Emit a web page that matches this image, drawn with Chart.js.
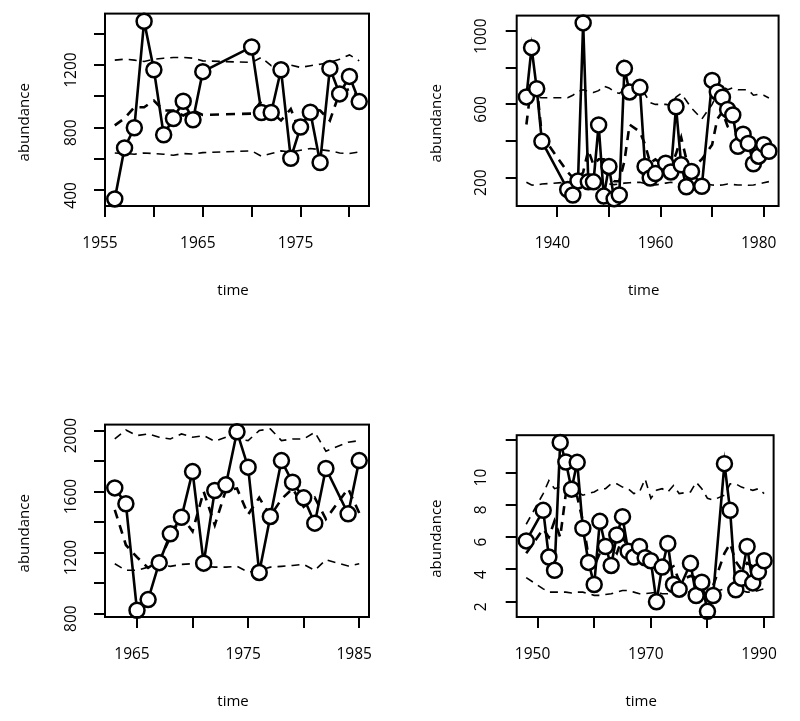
<!DOCTYPE html>
<html><head><meta charset="utf-8">
<script src="https://cdn.jsdelivr.net/npm/chart.js@4"></script>
<style>
body{margin:0;background:#fff;width:800px;height:721px;position:relative;overflow:hidden}
.p{position:absolute;width:400px;height:310px}
</style></head><body>
<div class="p" style="left:0;top:0"><canvas id="c1"></canvas></div>
<div class="p" style="left:400px;top:0"><canvas id="c2"></canvas></div>
<div class="p" style="left:0;top:411px"><canvas id="c3"></canvas></div>
<div class="p" style="left:400px;top:411px"><canvas id="c4"></canvas></div>
<script>
// ---------- Panel 1 ----------
const years1 = [1956,1957,1958,1959,1960,1961,1962,1963,1964,1965,1970,1971,1972,1973,1974,1975,1976,1977,1978,1979,1980,1981];
const obs1 = [345,671,800,1480,1170,755,859,969,851,1158,1316,897,897,1170,605,804,899,578,1179,1016,1128,967];
const median1 = [815,860,931,931,973,910,910,878,910,882,890,970,900,846,920,762,920,910,846,1026,1047,995];
const lower1 = [639,635,631,639,635,631,624,635,632,641,652,618,635,652,645,656,667,660,652,639,635,645];
const upper1 = [1232,1238,1232,1223,1238,1244,1249,1249,1244,1227,1217,1249,1196,1206,1200,1185,1196,1206,1217,1238,1265,1227];
const xTicks1 = [1955,1960,1965,1970,1975,1980];
const xLabels1 = [1955,1965,1975];
const yTicks1 = [400,600,800,1000,1200,1400];
const yLabels1 = [400,800,1200];

// ---------- Panel 2 ----------
const years2 = [1934,1935,1936,1937,1942,1943,1944,1945,1946,1947,1948,1949,1950,1951,1952,1953,1954,1956,1957,1958,1959,1961,1962,1963,1964,1965,1966,1968,1970,1971,1972,1973,1974,1975,1976,1977,1978,1979,1980,1981];
const obs2 = [641,910,686,398,135,105,182,1045,177,177,488,99,261,84,105,797,668,693,261,198,222,279,231,587,270,150,234,153,731,668,639,572,542,371,437,387,276,317,380,344];
const median2 = [490,720,700,430,230,200,190,230,350,270,300,300,210,180,180,290,490,450,380,280,300,260,260,330,420,300,250,300,380,520,560,480,460,450,390,400,370,360,340,360];
const lower2 = [175,160,158,165,175,180,178,175,172,170,168,168,165,162,165,170,172,175,168,165,160,170,175,168,160,162,165,170,160,158,160,165,162,160,160,158,160,165,172,178];
const upper2 = [645,655,640,636,636,650,670,680,670,665,675,700,690,670,660,680,665,680,655,610,600,600,595,640,660,620,580,520,600,660,700,680,690,680,680,680,650,655,650,635];
const xTicks2 = [1940,1950,1960,1970,1980];
const xLabels2 = [1940,1960,1980];
const yTicks2 = [200,400,600,800,1000];
const yLabels2 = [200,600,1000];

// ---------- Panel 3 ----------
const years3 = [1963,1964,1965,1966,1967,1968,1969,1970,1971,1972,1973,1974,1975,1976,1977,1978,1979,1980,1981,1982,1984,1985];
const obs3 = [1624,1520,822,892,1134,1323,1432,1731,1131,1607,1644,1992,1760,1070,1437,1803,1661,1559,1393,1751,1454,1803];
const median3 = [1480,1250,1170,1100,1150,1300,1440,1340,1600,1380,1610,1620,1450,1560,1440,1550,1620,1500,1560,1420,1620,1460];
const lower3 = [1127,1084,1084,1105,1123,1110,1123,1127,1110,1105,1105,1110,1073,1084,1105,1110,1116,1123,1084,1153,1112,1127];
const upper3 = [1945,2004,1967,1978,1956,1945,1978,1956,1967,1930,1956,1945,1934,2000,2011,1934,1945,1945,1989,1865,1923,1934];
const xTicks3 = [1965,1970,1975,1980,1985];
const xLabels3 = [1965,1975,1985];
const yTicks3 = [800,1000,1200,1400,1600,1800,2000];
const yLabels3 = [800,1200,1600,2000];

// ---------- Panel 4 ----------
const years4 = [1948,1951,1952,1953,1954,1955,1956,1957,1958,1959,1960,1961,1962,1963,1964,1965,1966,1967,1968,1969,1970,1971,1972,1973,1974,1975,1977,1978,1979,1980,1981,1983,1984,1985,1986,1987,1988,1989,1990];
const obs4 = [5.77,7.66,4.77,3.95,11.86,10.65,8.97,10.63,6.55,4.44,3.07,6.98,5.42,4.25,6.14,7.27,5.13,4.77,5.42,4.73,4.54,2.0,4.15,5.61,3.07,2.78,4.38,2.39,3.21,1.41,2.39,10.55,7.66,2.74,3.46,5.42,3.17,3.86,4.54];
const median4 = [5.0,6.5,6.0,7.0,6.0,8.7,8.8,8.5,7.0,4.8,4.2,5.0,5.5,5.4,5.0,6.0,5.4,5.0,5.0,4.8,4.6,4.0,3.8,4.0,4.2,3.3,3.6,3.5,3.0,2.9,3.0,5.0,5.6,4.5,4.0,4.4,4.2,4.0,4.2];
const lower4 = [3.5,2.8,2.6,2.6,2.6,2.6,2.55,2.6,2.6,2.5,2.4,2.4,2.45,2.5,2.6,2.7,2.7,2.6,2.5,2.5,2.55,2.6,2.5,2.5,2.55,2.6,2.6,2.55,2.5,2.4,2.6,2.8,2.8,2.7,2.7,2.6,2.6,2.7,2.8];
const upper4 = [6.8,8.7,9.5,9.0,9.1,8.9,8.9,8.8,8.6,8.7,8.8,9.0,9.0,9.3,9.3,9.1,9.0,8.7,8.8,9.6,8.4,8.9,9.0,8.8,9.2,8.7,8.8,9.4,9.0,8.4,8.3,8.6,9.3,9.3,9.1,9.0,8.9,9.0,8.7];
const xTicks4 = [1950,1960,1970,1980,1990];
const xLabels4 = [1950,1970,1990];
const yTicks4 = [2,4,6,8,10,12];
const yLabels4 = [2,4,6,8,10];

const xTitle = 'time';
const yTitle = 'abundance';

const boxPlugin = {
  id: 'box',
  afterDraw(chart) {
    const {ctx, chartArea: a} = chart;
    ctx.save();
    ctx.strokeStyle = '#000';
    ctx.lineWidth = 2;
    ctx.strokeRect(a.left, a.top, a.right - a.left, a.bottom - a.top);
    ctx.restore();
  }
};

function pts(xs, ys) { return xs.map((x, i) => ({x: x, y: ys[i]})); }

function shiftTitle(scale, dx, dy) {
  if (scale._titlePatched) return;
  const orig = scale.drawTitle;
  scale.drawTitle = function () {
    const ctx = this.ctx;
    ctx.save();
    ctx.translate(dx, dy);
    orig.call(this);
    ctx.restore();
  };
  scale._titlePatched = true;
}

function makePanel(id, p) {
  const tickFont = {family: "'Open Sans'", size: 15.5};
  const titleFont = {family: "'Open Sans'", size: 15};
  new Chart(document.getElementById(id), {
    type: 'line',
    data: {
      datasets: [
        {data: pts(p.years, p.obs), borderColor: '#000', borderWidth: 2.6, pointRadius: 7.5,
         pointBorderWidth: 2.5, pointBackgroundColor: '#fff', pointBorderColor: '#000', order: 0, clip: false},
        {data: pts(p.years, p.median), borderColor: '#000', borderWidth: 2.6, borderDash: [9, 7],
         pointRadius: 0, order: 1, clip: false},
        {data: pts(p.years, p.upper), borderColor: '#000', borderWidth: 1.6, borderDash: [8, 6],
         pointRadius: 0, order: 2, clip: false},
        {data: pts(p.years, p.lower), borderColor: '#000', borderWidth: 1.6, borderDash: [8, 6],
         pointRadius: 0, order: 2, clip: false}
      ]
    },
    options: {
      responsive: true, maintainAspectRatio: false, animation: false,
      events: [],
      layout: {padding: {top: 13, right: p.right, left: 0, bottom: 0}},
      plugins: {legend: {display: false}, tooltip: {enabled: false}},
      scales: {
        x: {
          type: 'linear', min: p.xMin, max: p.xMax,
          afterBuildTicks: s => { s.ticks = p.xTicks.map(v => ({value: v})); },
          afterFit: s => { s.height = 104; shiftTitle(s, -4, 0); },
          grid: {drawOnChartArea: false, drawTicks: true, tickLength: 11, color: '#000', lineWidth: 2},
          border: {display: false},
          ticks: {autoSkip: false, maxRotation: 0, minRotation: 0, padding: 17.5, labelOffset: -5,
                  color: '#000', font: tickFont,
                  callback: v => p.xLabels.includes(v) ? String(v) : ''},
          title: {display: true, text: xTitle, color: '#000', font: titleFont, padding: {top: 0, bottom: 9.8}}
        },
        y: {
          type: 'linear', min: p.yMin, max: p.yMax,
          afterBuildTicks: s => { s.ticks = p.yTicks.map(v => ({value: v})); },
          afterFit: s => { s.width = p.left; shiftTitle(s, 0, 12.5); },
          grid: {drawOnChartArea: false, drawTicks: true, tickLength: 11, color: '#000', lineWidth: 2},
          border: {display: false},
          ticks: {autoSkip: false, minRotation: 90, maxRotation: 90, crossAlign: 'center',
                  padding: p.yPad, labelOffset: 5, color: '#000', font: tickFont,
                  callback: v => p.yLabels.includes(v) ? String(v) : ''},
          title: {display: true, text: yTitle, color: '#000', font: titleFont, padding: {top: p.titlePad, bottom: 0}}
        }
      }
    },
    plugins: [boxPlugin]
  });
}

makePanel('c1', {years: years1, obs: obs1, median: median1, lower: lower1, upper: upper1,
  xMin: 1955, xMax: 1982, yMin: 300, yMax: 1529, xTicks: xTicks1, xLabels: xLabels1,
  yTicks: yTicks1, yLabels: yLabels1, left: 105, right: 31, yPad: 4.3, titlePad: 15.7});
makePanel('c2', {years: years2, obs: obs2, median: median2, lower: lower2, upper: upper2,
  xMin: 1932.12, xMax: 1982.88, yMin: 45, yMax: 1085, xTicks: xTicks2, xLabels: xLabels2,
  yTicks: yTicks2, yLabels: yLabels2, left: 116.7, right: 18.3, yPad: 6.3, titlePad: 27.4});
makePanel('c3', {years: years3, obs: obs3, median: median3, lower: lower3, upper: upper3,
  xMin: 1962.12, xMax: 1985.88, yMin: 778, yMax: 2039, xTicks: xTicks3, xLabels: xLabels3,
  yTicks: yTicks3, yLabels: yLabels3, left: 105, right: 31, yPad: 4.3, titlePad: 15.7});
makePanel('c4', {years: years4, obs: obs4, median: median4, lower: lower4, upper: upper4,
  xMin: 1946.32, xMax: 1991.68, yMin: 1.06, yMax: 12.31, xTicks: xTicks4, xLabels: xLabels4,
  yTicks: yTicks4, yLabels: yLabels4, left: 116.7, right: 18.3, yPad: 14.9, titlePad: 27.4});
</script>
</body></html>
